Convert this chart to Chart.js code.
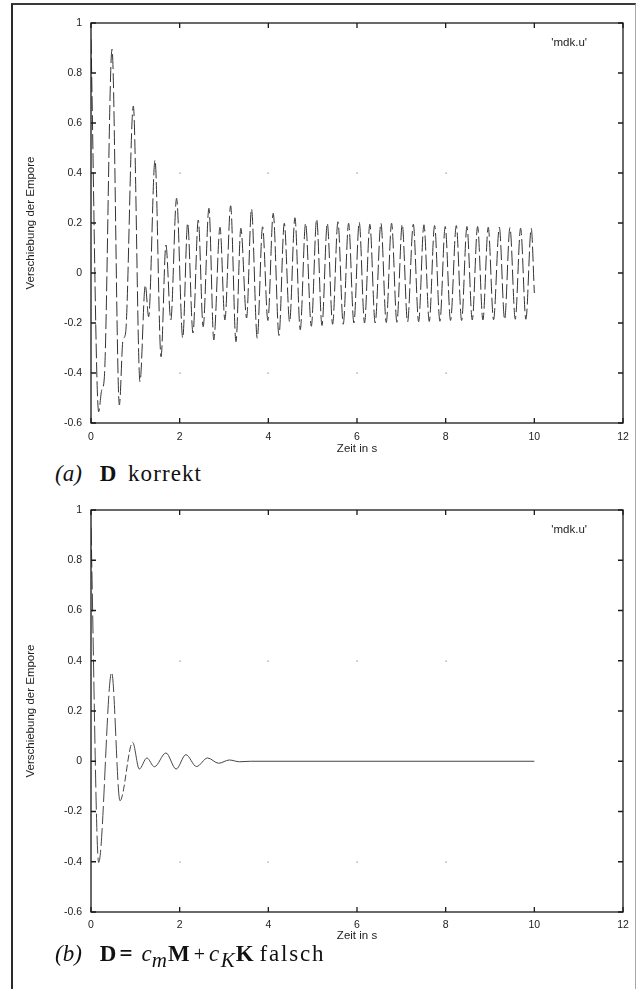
<!DOCTYPE html>
<html>
<head>
<meta charset="utf-8">
<script src="https://cdn.jsdelivr.net/npm/chart.js@4.4.1/dist/chart.umd.min.js"></script>
<style>
  html, body { margin: 0; padding: 0; background: #fff; }
  body { width: 637px; height: 989px; position: relative; overflow: hidden; }
  #frame {
    position: absolute; left: 11px; top: 3px; width: 622px; height: 1000px;
    border-left: 2px solid #2a2a2a; border-top: 2px solid #3a3a3a; border-right: 1px solid #a8a8a8;
  }
  canvas { position: absolute; left: 0; }
  #cA { top: 0; }
  #cB { top: 487px; }
  .cap {
    position: absolute; left: 55px; white-space: nowrap; color: #111;
    font-family: "Liberation Serif", "Times New Roman", serif; font-size: 23px; line-height: 23px;
  }
  .cap i, .cap b { font-size: 23px; }
  .cap .sub { font-size: 21px; position: relative; top: 6px; font-style: italic; }
  .cap .plus { font-size: 20px; }
</style>
</head>
<body>
<div id="frame"></div>
<canvas id="cA" width="637" height="460"></canvas>
<div class="cap" style="top:462px"><i>(a)</i><b style="margin-left:18px">D</b><span style="margin-left:11.5px;letter-spacing:1.1px">korrekt</span></div>
<canvas id="cB" width="637" height="460"></canvas>
<div class="cap" style="top:942px"><i>(b)</i><b style="margin-left:18px">D</b><b style="margin-left:3px">=</b><i style="margin-left:9px">c</i><span class="sub">m</span><b style="margin-left:1px">M</b><span class="plus" style="margin-left:4px">+</span><i style="margin-left:4px">c</i><span class="sub" style="margin-left:1.5px">K</span><b style="margin-left:1px">K</b><span style="margin-left:6px;letter-spacing:1.8px">falsch</span></div>

<script>
// Axis ticks (shared by both plots)
const xTicks = [0, 2, 4, 6, 8, 10, 12];
const yTicks = [-0.6, -0.4, -0.2, 0, 0.2, 0.4, 0.6, 0.8, 1];
const gridDotX = [2, 4, 6, 8];
const gridDotY = [-0.4, 0.4];
const seriesName = "'mdk.u'";

// (a) correct damping matrix: time [s] and displacement
const timeA = [0, 0.173, 0.24, 0.30, 0.474, 0.64, 0.72, 0.78, 0.955, 1.105, 1.225, 1.30, 1.444, 1.58, 1.69, 1.80,
  1.93, 2.07, 2.18, 2.30, 2.42, 2.53, 2.66, 2.77, 2.91, 3.02, 3.15, 3.27, 3.38, 3.51, 3.62, 3.75, 3.87, 3.99,
  4.11, 4.24, 4.36, 4.48, 4.60, 4.72, 4.84, 4.97, 5.09, 5.21, 5.33, 5.45, 5.57, 5.69, 5.81, 5.93, 6.05, 6.17,
  6.29, 6.41, 6.54, 6.66, 6.78, 6.90, 7.02, 7.14, 7.27, 7.39, 7.51, 7.63, 7.75, 7.87, 7.99, 8.11, 8.24, 8.36,
  8.48, 8.60, 8.72, 8.84, 8.96, 9.08, 9.21, 9.33, 9.45, 9.57, 9.69, 9.81, 9.93, 10.0];
const dispA = [0.935, -0.555, -0.47, -0.42, 0.895, -0.528, -0.27, -0.24, 0.668, -0.435, -0.048, -0.175, 0.452, -0.335, 0.112, -0.188,
  0.299, -0.26, 0.20, -0.24, 0.212, -0.215, 0.259, -0.268, 0.183, -0.188, 0.269, -0.275, 0.179, -0.18, 0.256, -0.261, 0.185, -0.19,
  0.239, -0.25, 0.199, -0.196, 0.221, -0.227, 0.199, -0.213, 0.216, -0.21, 0.199, -0.205, 0.205, -0.205, 0.199, -0.20, 0.203, -0.20,
  0.195, -0.20, 0.199, -0.198, 0.199, -0.197, 0.195, -0.196, 0.195, -0.195, 0.193, -0.194, 0.190, -0.193, 0.186, -0.19, 0.190, -0.19,
  0.186, -0.188, 0.186, -0.188, 0.183, -0.187, 0.183, -0.186, 0.182, -0.185, 0.179, -0.185, 0.179, -0.08];

// (b) Rayleigh damping D = cm*M + cK*K: time [s] and displacement
const timeB = [0, 0.173, 0.466, 0.654, 0.94, 1.09, 1.26, 1.43, 1.69, 1.92, 2.14, 2.38, 2.63, 2.88, 3.12, 3.35, 3.6, 10.0];
const dispB = [0.93, -0.403, 0.354, -0.157, 0.075, -0.031, 0.013, -0.022, 0.033, -0.031, 0.026, -0.021, 0.013, -0.008, 0.005, -0.002, 0, 0];

Chart.defaults.font.family = '"Liberation Sans", Arial, Helvetica, sans-serif';
Chart.defaults.color = '#222';

// gnuplot-like box: border, inward ticks on all four sides, sparse grid dots, key text
const gnuFrame = {
  id: 'gnuFrame',
  afterDatasetsDraw(chart) {
    const { ctx, chartArea: a, scales: { x, y } } = chart;
    ctx.save();
    ctx.strokeStyle = '#1a1a1a';
    ctx.lineWidth = 1.3;
    ctx.strokeRect(a.left, a.top, a.right - a.left, a.bottom - a.top);
    const L = 5;
    ctx.beginPath();
    xTicks.forEach(v => {
      const px = x.getPixelForValue(v);
      ctx.moveTo(px, a.bottom); ctx.lineTo(px, a.bottom - L);
      ctx.moveTo(px, a.top); ctx.lineTo(px, a.top + L);
    });
    yTicks.forEach(v => {
      const py = y.getPixelForValue(v);
      ctx.moveTo(a.left, py); ctx.lineTo(a.left + L, py);
      ctx.moveTo(a.right, py); ctx.lineTo(a.right - L, py);
    });
    ctx.stroke();
    ctx.fillStyle = '#888';
    gridDotX.forEach(gx => gridDotY.forEach(gy => {
      ctx.fillRect(Math.round(x.getPixelForValue(gx)) - 0.5, Math.round(y.getPixelForValue(gy)) - 0.5, 1.2, 1.2);
    }));
    ctx.font = '11.5px "Liberation Sans", Arial, sans-serif';
    ctx.textAlign = 'right';
    ctx.textBaseline = 'middle';
    ctx.fillStyle = '#222';
    ctx.fillText(chart.data.datasets[0].label, a.right - 36, a.top + 20);
    ctx.restore();
  }
};

function makePlot(id, t, u, lineOpts, axisH, titlePad, tickPad) {
  return new Chart(document.getElementById(id), {
    type: 'line',
    data: {
      datasets: [Object.assign({
        label: seriesName,
        data: t.map((v, i) => ({ x: v, y: u[i] })),
        borderColor: '#333',
        borderWidth: 1,
        pointRadius: 0,
        fill: false,
        cubicInterpolationMode: 'monotone'
      }, lineOpts)]
    },
    options: {
      responsive: false,
      animation: false,
      events: [],
      layout: { padding: { left: 12, right: 14, top: 23, bottom: 0 } },
      plugins: { legend: { display: false }, tooltip: { enabled: false } },
      scales: {
        x: {
          type: 'linear', min: 0, max: 12,
          afterBuildTicks: s => { s.ticks = xTicks.map(v => ({ value: v })); },
          afterFit: s => { s.height = axisH; },
          grid: { display: false, drawTicks: false },
          border: { display: false },
          ticks: { font: { size: 10.5 }, padding: tickPad, maxRotation: 0, callback: v => String(v) },
          title: { display: true, text: 'Zeit in s', font: { size: 11.5 }, padding: { top: 0, bottom: titlePad } }
        },
        y: {
          type: 'linear', min: -0.6, max: 1,
          afterBuildTicks: s => { s.ticks = yTicks.map(v => ({ value: v })); },
          afterFit: s => { s.width = 79; },
          grid: { display: false, drawTicks: false },
          border: { display: false },
          ticks: { font: { size: 10.5 }, padding: 9, callback: v => String(v) },
          title: { display: true, text: 'Verschiebung der Empore', font: { size: 11.5 }, padding: { top: 12, bottom: 0 } }
        }
      }
    },
    plugins: [gnuFrame]
  });
}

// steep swings keep the long dash, small wiggles are drawn solid
const dashBySwing = c => {
  const dy = Math.abs(c.p1.y - c.p0.y);
  if (dy > 90) return [18, 4];
  if (dy > 30) return [7, 3];
  return [];
};

makePlot('cA', timeA, dispA, { borderDash: [15, 4] }, 37, 4.5, 8);
makePlot('cB', timeB, dispB, { borderColor: '#444', segment: { borderDash: dashBySwing } }, 35, 4, 7);
</script>
</body>
</html>
